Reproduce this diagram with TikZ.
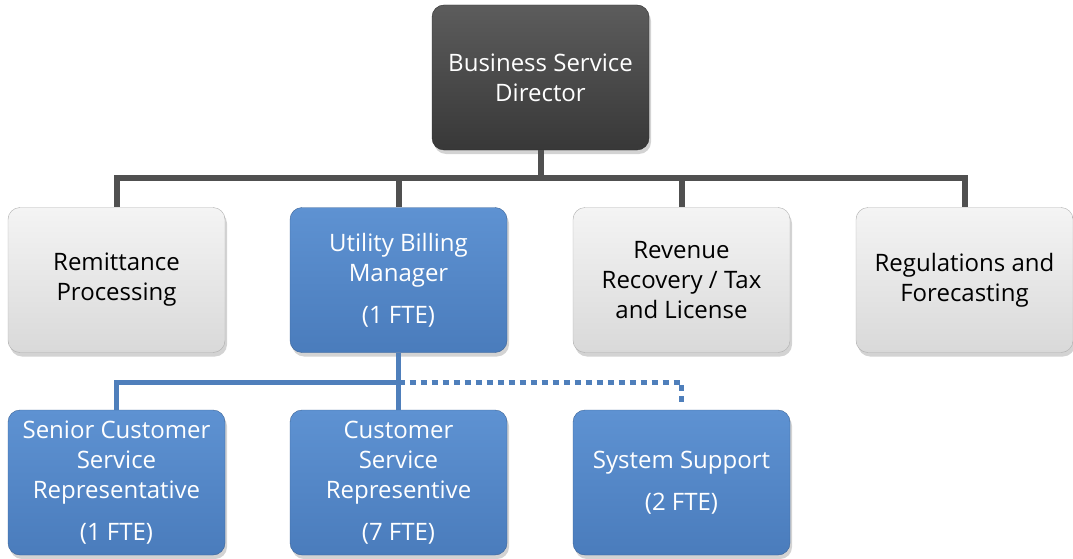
\documentclass[tikz,border=0pt]{standalone}
\usepackage{fontspec}
\setmainfont{Open Sans}
\usetikzlibrary{shadows}
\definecolor{dirtop}{HTML}{5C5C5C}
\definecolor{dirbot}{HTML}{383838}
\definecolor{greytop}{HTML}{F4F4F4}
\definecolor{greybot}{HTML}{D9D9D9}
\definecolor{bluetop}{HTML}{5E92D2}
\definecolor{bluebot}{HTML}{4A7CBC}
\definecolor{darkline}{HTML}{505050}
\definecolor{blueline}{HTML}{4F7FBB}

\begin{document}
\begin{tikzpicture}[x=1pt,y=-1pt,
  box/.style={rounded corners=12pt, minimum width=217pt, minimum height=145pt,
    inner sep=0pt, align=center, font=\fontsize{24}{30}\selectfont,
    drop shadow={shadow xshift=2pt, shadow yshift=-4pt, opacity=0.35}},
  dirbox/.style={box, top color=dirtop, bottom color=dirbot, draw=dirbot!80!black, text=white},
  greybox/.style={box, top color=greytop, bottom color=greybot, draw=greybot!80!black, text=black},
  bluebox/.style={box, top color=bluetop, bottom color=bluebot, draw=bluebot!80!black, text=white},
  greyconn/.style={draw=darkline, line width=6pt},
  blueconn/.style={draw=blueline, line width=5pt}]
\useasboundingbox (0,0) rectangle (1073,559);

% top
\node[dirbox] (dir) at (540.5,77.5) {Business Service\\Director};

% second row
\node[greybox] (rem) at (116.5,280) {Remittance\\Processing};
\node[bluebox] (ubm) at (398.5,280) {Utility Billing\\Manager\\[12pt](1 FTE)};
\node[greybox] (rev) at (681.5,280) {Revenue\\Recovery / Tax\\and License};
\node[greybox] (reg) at (964.5,280) {Regulations and\\Forecasting};

% third row
\node[bluebox] (sen) at (116.5,482.5) {Senior Customer\\Service\\Representative\\[12pt](1 FTE)};
\node[bluebox] (cus) at (398.5,482.5) {Customer\\Service\\Representive\\[12pt](7 FTE)};
\node[bluebox] (sys) at (681.5,482.5) {System Support\\[12pt](2 FTE)};

% connectors
\coordinate (bus) at (540.5,178);
\coordinate (sub) at (398.5,382);
\coordinate (dotend) at (681.5,405);
\draw[greyconn] (dir.south) -- (bus);
\foreach \n in {rem,ubm,rev,reg} {
\draw[greyconn] (bus) -| (\n.north);
}
\draw[blueconn] (ubm.south) -- (cus.north);
\draw[blueconn] (sub) -| (sen.north);
\draw[blueconn, dash pattern=on 6pt off 5pt] (sub) -| (dotend);
\end{tikzpicture}
\end{document}
